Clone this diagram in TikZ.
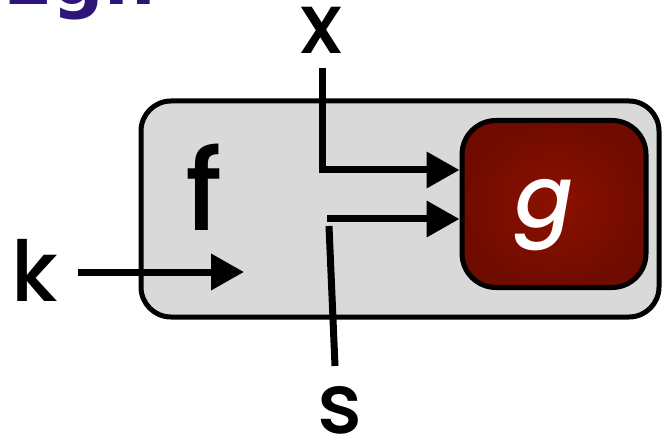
\documentclass[tikz,border=0pt]{standalone}
\usepackage{fontspec}
\setmainfont{Poppins}
\newfontfamily\labfont{Poppins Medium}
\newfontfamily\titlefont{DejaVu Sans}
\usetikzlibrary{arrows.meta}
\definecolor{boxgray}{RGB}{217,217,217}
\definecolor{gdark}{RGB}{112,11,0}
\definecolor{glight}{RGB}{140,17,0}
\definecolor{titlepurple}{RGB}{45,22,120}

\begin{document}
\begin{tikzpicture}[x=1pt,y=-1pt,
  wire/.style={line width=7pt,-{Triangle[length=33pt,width=35pt]}},
  bare/.style={line width=7pt},
  lab/.style={inner sep=0pt,font=\labfont\fontsize{84}{84}\selectfont}]
\useasboundingbox (0,0) rectangle (663,438);

% cut-off title
\node[anchor=base east,inner sep=0pt,text=titlepurple,
  font=\titlefont\bfseries\fontsize{72}{72}\selectfont] (title) at (156,5) {Egn};

% outer block f
\node[draw,line width=5pt,fill=boxgray,rounded corners=30pt,
  minimum width=518pt,minimum height=216pt] (fbox) at (400,209) {};
\node[lab,font=\labfont\fontsize{112}{112}\selectfont] (flab) at (204,187) {f};

% inner block g
\node[draw,line width=5pt,rounded corners=34pt,inner color=glight,outer color=gdark,
  minimum width=184pt,minimum height=167pt] (gbox) at (554,204) {};
\node[lab,text=white,font=\labfont\itshape\fontsize{86}{86}\selectfont] (glab) at (545,215) {g};

% labels
\node[lab] (xlab) at (321,30) {x};
\node[lab] (klab) at (35,270) {k};
\node[lab] (slab) at (340,410) {s};

% wires
\coordinate (xin) at (322,68);
\coordinate (xbend) at (322,170);
\draw[wire] (xin) -- (xbend) -- (xbend -| gbox.west);

\coordinate (sbend) at (327,219);
\draw[wire] (sbend) -- (sbend -| gbox.west);
\coordinate (stop) at (329,226);
\coordinate (sout) at (335,366);
\draw[bare] (stop) -- (sout);

\coordinate (kin) at (78,272);
\coordinate (kend) at (244,272);
\draw[wire] (kin) -- (kend);
\end{tikzpicture}
\end{document}
